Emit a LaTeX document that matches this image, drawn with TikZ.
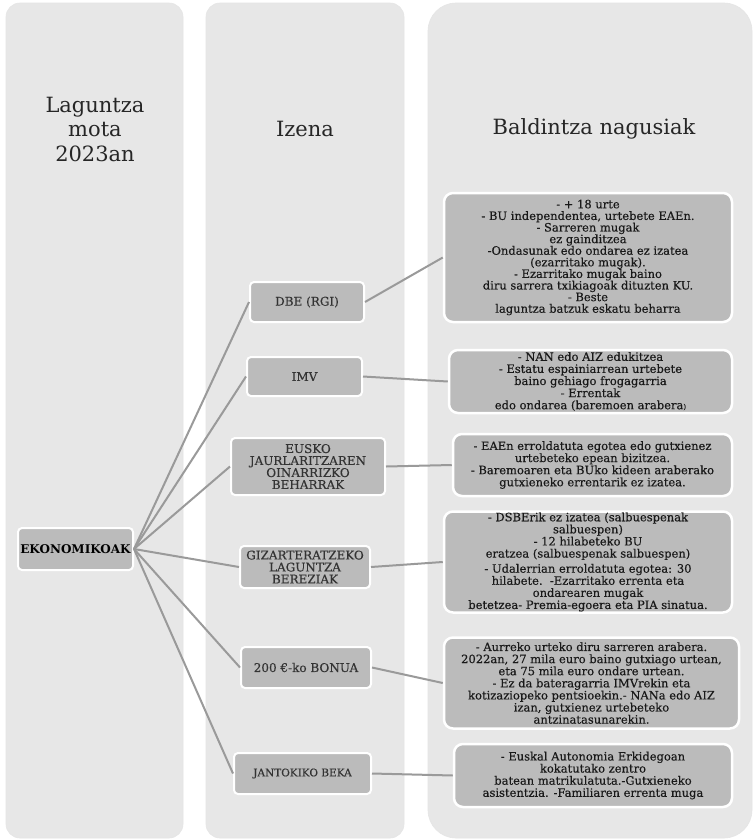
\documentclass[tikz,border=0pt]{standalone}
\usepackage{fontspec}
\setmainfont{DejaVu Serif}
\newfontfamily\boxfont{DejaVu Serif}[FakeBold=0.35]
\usepackage{tikz}
\usetikzlibrary{positioning}
\definecolor{colbg}{HTML}{E7E7E7}
\definecolor{boxbg}{HTML}{BBBBBB}
\definecolor{linegray}{HTML}{9A9A9A}

\begin{document}
\begin{tikzpicture} [x=1pt, y=-1pt, every text node part/.style={align=center}]
        \tikzset{
          header/.style={font=\fontsize{21}{24.5}\selectfont, text=black!85},
          mainbox/.style={fill=boxbg, draw=white, line width=2pt, rounded corners=4pt, font=\bfseries\fontsize{12}{12}\selectfont, text=black, inner sep=1pt},
          namebox/.style={fill=boxbg, draw=white, line width=2pt, rounded corners=4pt, font=\boxfont\fontsize{12}{12}\selectfont, text=black!80, inner sep=1pt},
          condbox/.style={fill=boxbg, draw=white, line width=2.5pt, rounded corners=9pt, font=\boxfont\fontsize{11.5}{12.1}\selectfont, text=black!90, inner sep=1pt},
          link/.style={draw=linegray, line width=2pt}
        }
        \useasboundingbox (0,0) rectangle (754,839);
        \fill[white] (0,0) rectangle (754,839);
        % columns
        \filldraw[fill=colbg, draw=black!10, line width=0.6pt, rounded corners=14pt] (6,3) rectangle (183,838);
        \filldraw[fill=colbg, draw=black!10, line width=0.6pt, rounded corners=14pt] (206,3) rectangle (404,838);
        \filldraw[fill=colbg, draw=black!10, line width=0.6pt, rounded corners=28pt] (428,3) rectangle (752,838);
        \node[header] (h1) at (95,129) {Laguntza\\mota\\2023an};
        \node[header] (h2) at (305,129) {Izena};
        \node[header] (h3) at (594,129) {Baldintza nagusiak};
        % type
        \node[mainbox, minimum width=115pt, minimum height=42pt] (ekon) at (75.5,549) {EKONOMIKOAK};
        % names
        \node[namebox, minimum width=114pt, minimum height=40pt] (dbe) at (307,302) {DBE (RGI)};
        \node[namebox, minimum width=115pt, minimum height=39pt] (imv) at (304.5,376.5) {IMV};
        \node[namebox, minimum width=154pt, minimum height=57pt] (eusko) at (308,466.5) {EUSKO\\JAURLARITZAREN\\OINARRIZKO\\BEHARRAK};
        \node[namebox, minimum width=130pt, minimum height=42pt] (giz) at (305,567) {GIZARTERATZEKO\\LAGUNTZA\\BEREZIAK};
        \node[namebox, minimum width=130pt, minimum height=41pt] (bonua) at (306,667.5) {200 €-ko BONUA};
        \node[namebox, minimum width=137pt, minimum height=41pt, font=\boxfont\fontsize{10.5}{12}\selectfont] (beka) at (302.5,773.5) {JANTOKIKO BEKA};
        \draw[link] (ekon.east) -- (dbe.west);
        \draw[link] (ekon.east) -- (imv.west);
        \draw[link] (ekon.east) -- (eusko.west);
        \draw[link] (ekon.east) -- (giz.west);
        \draw[link] (ekon.east) -- (bonua.west);
        \draw[link] (ekon.east) -- (beka.west);
        % conditions
        \node[condbox, minimum width=288pt, minimum height=129pt, font=\boxfont\fontsize{11.5}{11.6}\selectfont] (c1) at (588,257.5) {- + 18 urte\\- BU independentea, urtebete EAEn.\\- Sarreren mugak\\ez gainditzea\\-Ondasunak edo ondarea ez izatea\\(ezarritako mugak).\\- Ezarritako mugak baino\\diru sarrera txikiagoak dituzten KU.\\- Beste\\laguntza batzuk eskatu beharra};
        \node[condbox, minimum width=283pt, minimum height=63pt] (c2) at (590.5,381.5) {- NAN edo AIZ edukitzea\\- Estatu espainiarrean urtebete\\baino gehiago frogagarria\\- Errentak\\edo ondarea (baremoen arabera{\scriptsize )}};
        \node[condbox, minimum width=279pt, minimum height=62pt] (c3) at (592.5,465) {- EAEn erroldatuta egotea edo gutxienez\\urtebeteko epean bizitzea.\\- Baremoaren eta BUko kideen araberako\\gutxieneko errentarik ez izatea.};
        \node[condbox, minimum width=288pt, minimum height=97pt] (c4) at (588,562) {- DSBErik ez izatea (salbuespenak\\salbuespen)\\- 12 hilabeteko BU\\eratzea (salbuespenak salbuespen)\\[3pt]- Udalerrian erroldatuta egotea: 30\\hilabete.\ \ -Ezarritako errenta eta\\ondarearen mugak\\betetzea- Premia-egoera eta PIA sinatua.};
        \node[condbox, minimum width=295pt, minimum height=91pt] (c5) at (591.5,683) {- Aurreko urteko diru sarreren arabera.\\2022an, 27 mila euro baino gutxiago urtean,\\eta 75 mila euro ondare urtean.\\- Ez da bateragarria IMVrekin eta\\kotizaziopeko pentsioekin.- NANa edo AIZ\\izan, gutxienez urtebeteko\\antzinatasunarekin.};
        \node[condbox, minimum width=278pt, minimum height=63pt] (c6) at (593,775.5) {- Euskal Autonomia Erkidegoan\\kokatutako zentro\\batean matrikulatuta.-Gutxieneko\\asistentzia. -Familiaren errenta muga};
        \draw[link] (dbe.east) -- (c1.west);
        \draw[link] (imv.east) -- (c2.west);
        \draw[link] (eusko.east) -- (c3.west);
        \draw[link] (giz.east) -- (c4.west);
        \draw[link] (bonua.east) -- (c5.west);
        \draw[link] (beka.east) -- (c6.west);
    \end{tikzpicture}
\end{document}
